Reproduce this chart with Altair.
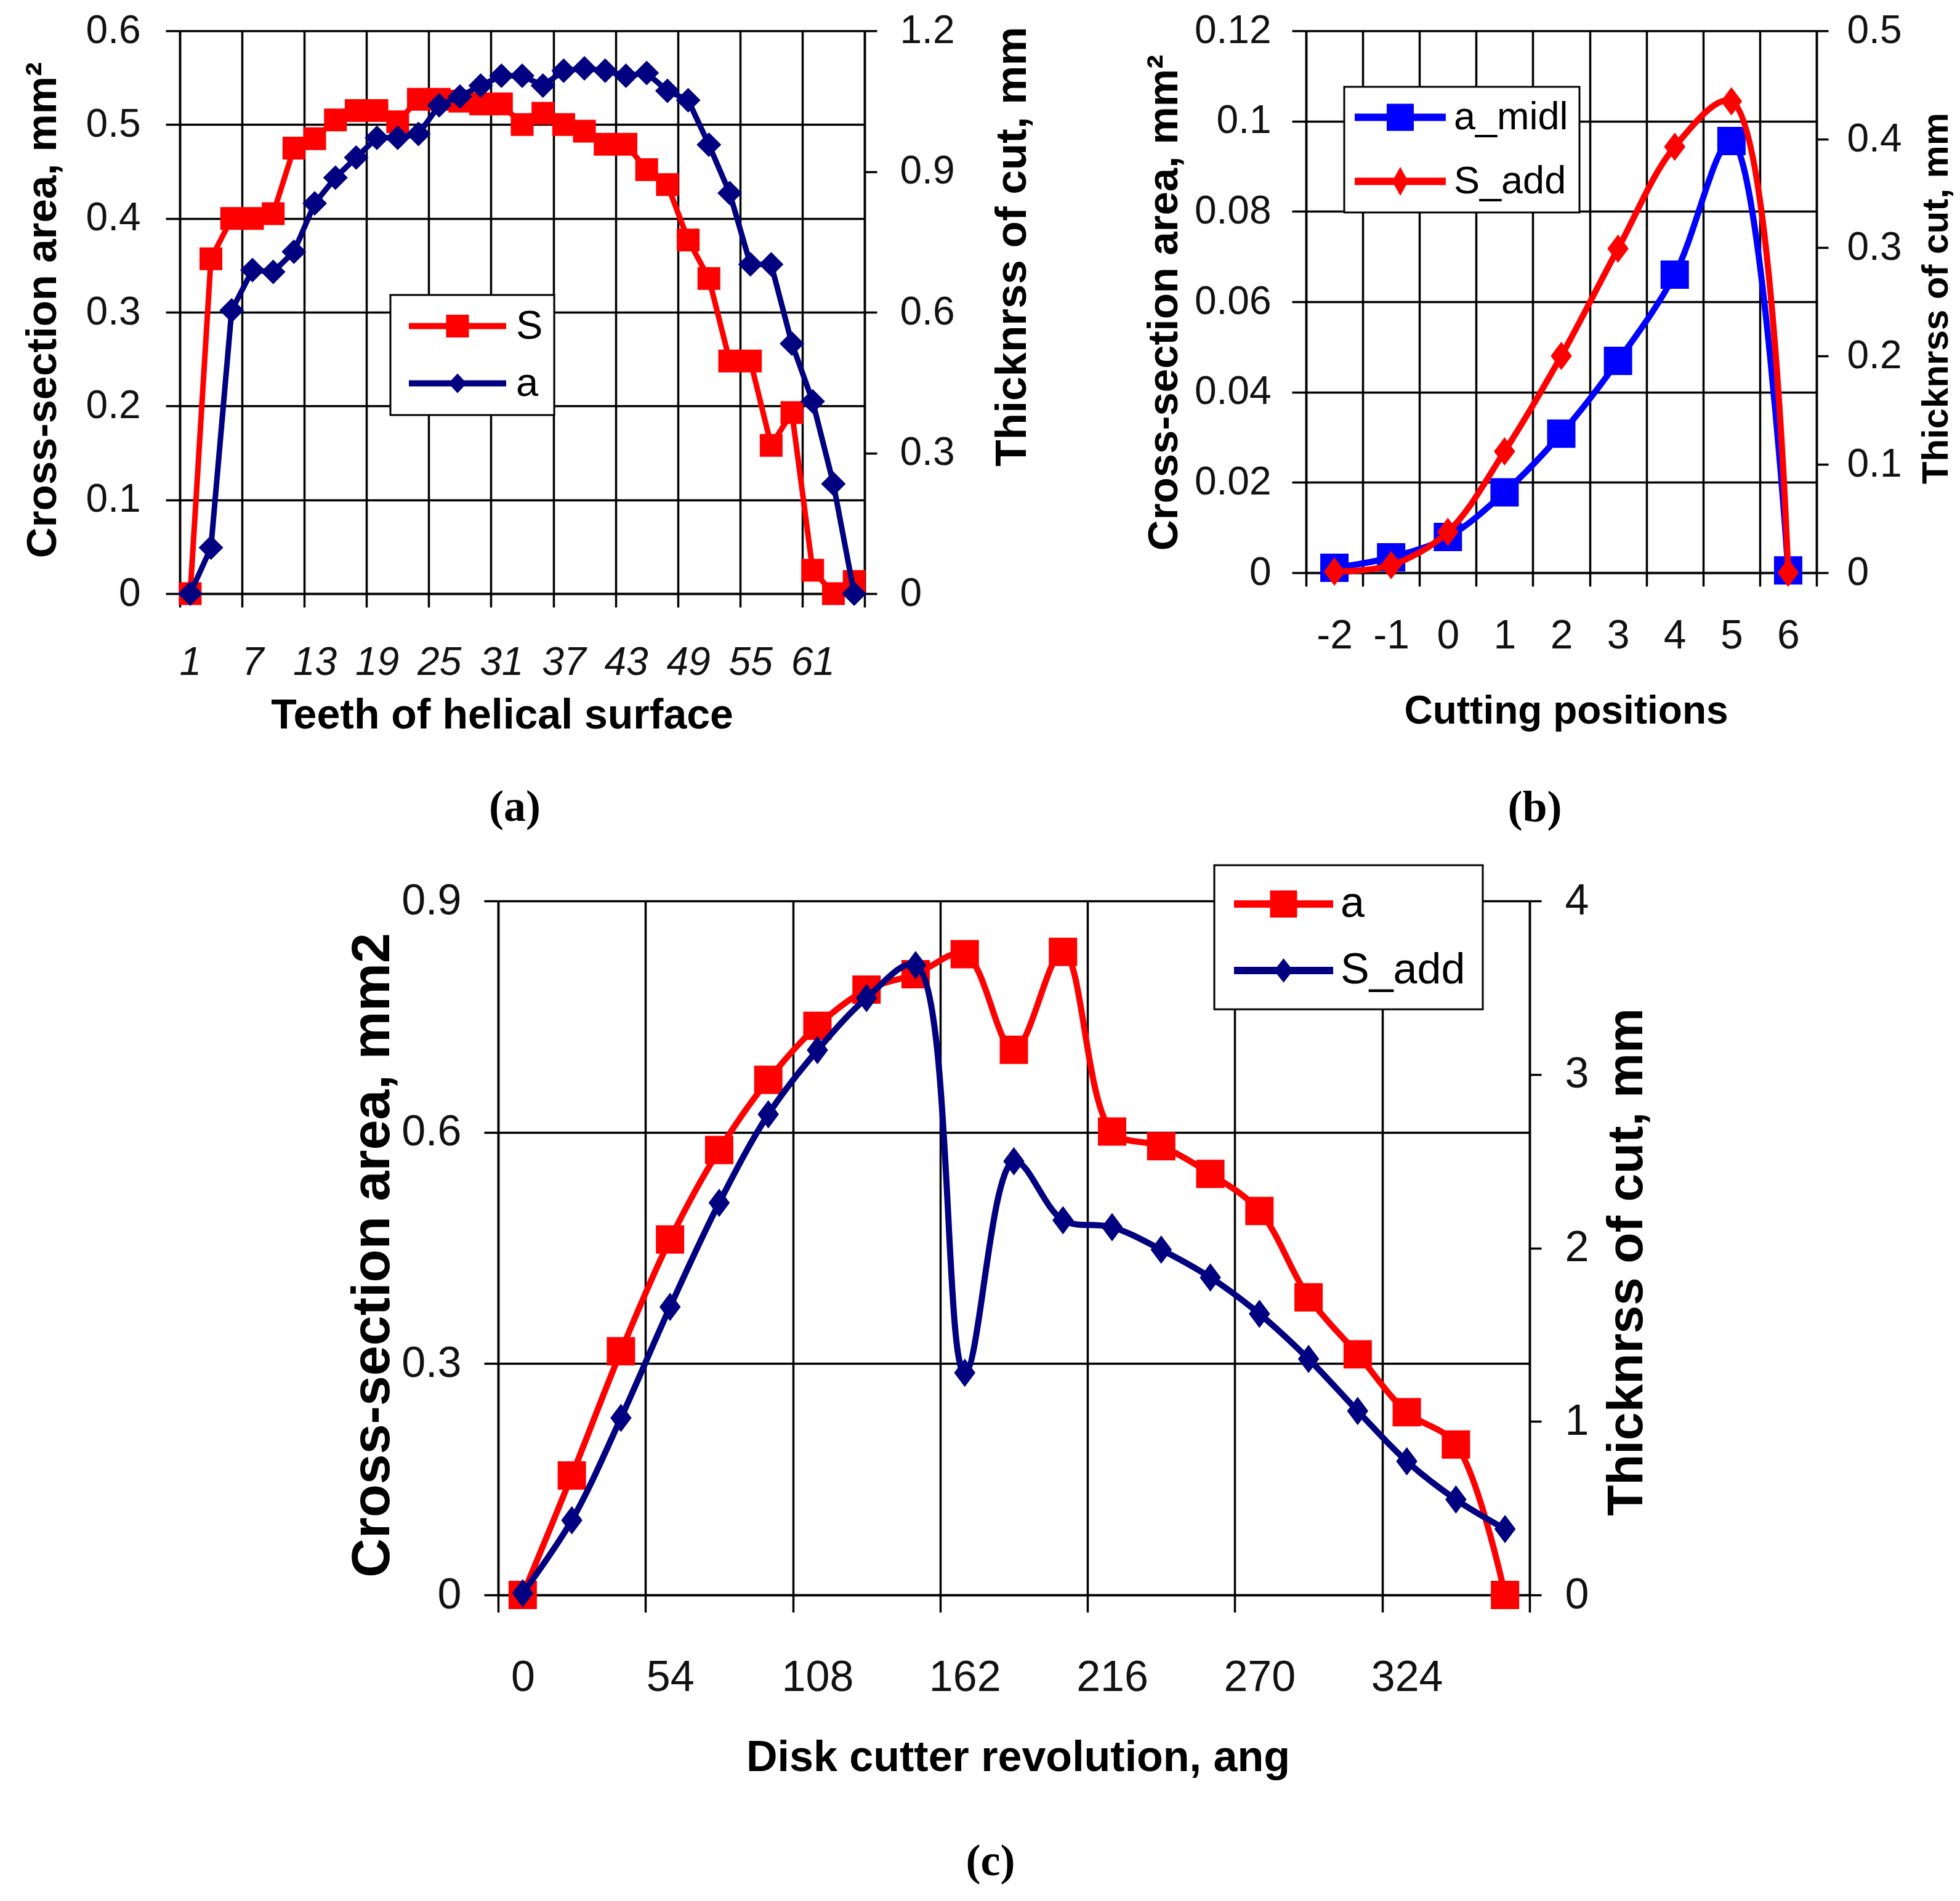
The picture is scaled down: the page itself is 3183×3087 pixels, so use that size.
import altair as alt
import pandas as pd

# ---------------- data: panel (a) ----------------
teeth = [1, 3, 5, 7, 9, 11, 13, 15, 17, 19, 21, 23, 25, 27, 29, 31, 33,
         35, 37, 39, 41, 43, 45, 47, 49, 51, 53, 55, 57, 59, 61, 63, 65]
S_a = [0.0, 0.357, 0.40, 0.40, 0.405, 0.475, 0.485, 0.505, 0.515, 0.515, 0.503,
       0.527, 0.527, 0.525, 0.522, 0.522, 0.50, 0.512, 0.50, 0.493, 0.479, 0.479,
       0.452, 0.436, 0.377, 0.336, 0.248, 0.248, 0.158, 0.193, 0.025, 0.0, 0.013]
a_a = [0.0, 0.098, 0.604, 0.69, 0.686, 0.729, 0.832, 0.887, 0.93, 0.972, 0.972,
       0.98, 1.041, 1.06, 1.083, 1.104, 1.104, 1.083, 1.115, 1.12, 1.115, 1.104,
       1.11, 1.072, 1.052, 0.957, 0.854, 0.702, 0.702, 0.533, 0.41, 0.234, 0.0]
xgrid_a = [0, 6, 12, 18, 24, 30, 36, 42, 48, 54, 60, 66]
yleft_a = [0, 0.1, 0.2, 0.3, 0.4, 0.5, 0.6]
yright_a = [0, 0.3, 0.6, 0.9, 1.2]
names_a = ["S", "a"]

# ---------------- data: panel (b) ----------------
positions = [-2, -1, 0, 1, 2, 3, 4, 5, 6]
a_midl = [0.0011, 0.0034, 0.0079, 0.0178, 0.0308, 0.0469, 0.066, 0.0956, 0.0005]
S_add_b = [0.001, 0.007, 0.0376, 0.112, 0.2, 0.299, 0.393, 0.435, 0.0]
xgrid_b = [-2.5, -1.5, -0.5, 0.5, 1.5, 2.5, 3.5, 4.5, 5.5, 6.5]
yleft_b = [0, 0.02, 0.04, 0.06, 0.08, 0.1, 0.12]
yright_b = [0, 0.1, 0.2, 0.3, 0.4, 0.5]
names_b = ["a_midl", "S_add"]

# ---------------- data: panel (c) ----------------
angles = [0, 18, 36, 54, 72, 90, 108, 126, 144, 162, 180, 198, 216, 234, 252,
          270, 288, 306, 324, 342, 360]
a_c = [0.0, 0.155, 0.316, 0.461, 0.577, 0.668, 0.738, 0.785, 0.805, 0.831, 0.707,
       0.834, 0.601, 0.582, 0.546, 0.498, 0.386, 0.312, 0.237, 0.195, 0.0]
S_add_c = [0.01, 0.43, 1.02, 1.66, 2.26, 2.77, 3.14, 3.44, 3.63, 1.28, 2.50, 2.16,
           2.12, 1.99, 1.83, 1.62, 1.36, 1.06, 0.77, 0.55, 0.38]
xgrid_c = [-9, 45, 99, 153, 207, 261, 315, 369]
yleft_c = [0, 0.3, 0.6, 0.9]
yright_c = [0, 1, 2, 3, 4]
names_c = ["a", "S_add"]

# ---------------- styling ----------------
SANS = "Liberation Sans, Arial, sans-serif"
SERIF = "Liberation Serif, Times New Roman, serif"
RED, NAVY, BLUE = "#FF0000", "#000080", "#0000FF"
TALL_DIAMOND = "M0,-1L0.75,0L0,1L-0.75,0Z"


def line_path(half_len, half_th, marker):
    return (f"M{-half_len},{-half_th}L{half_len},{-half_th}L{half_len},{half_th}"
            f"L{-half_len},{half_th}Z " + marker)


def sq(h):
    return f"M{-h},{-h}L{h},{-h}L{h},{h}L{-h},{h}Z"


def dia(w, h):
    return f"M0,{-h}L{w},0L0,{h}L{-w},0Z"


def x_axis(values, expr, loff, fsize, fstyle, tick, pad, title, tsize, tx, ty):
    return alt.Axis(values=values, labelExpr=expr, labelOffset=loff, labelFont=SANS,
                    labelFontSize=fsize, labelFontStyle=fstyle, labelBaseline="alphabetic",
                    labelPadding=pad, tickSize=tick, grid=True, title=title,
                    titleFont=SANS, titleFontSize=tsize, titleFontWeight="bold",
                    titleX=tx, titleY=ty, titleAngle=0, titleAlign="center",
                    titleBaseline="alphabetic", labelFlush=False, labelOverlap=False)


def y_axis(orient, values, fsize, tick, pad, grid, title, tsize, tx, ty):
    return alt.Axis(orient=orient, values=values, labelExpr="'' + datum.value",
                    labelFont=SANS, labelFontSize=fsize, tickSize=tick, labelPadding=pad,
                    grid=grid, title=title, titleFont=SANS, titleFontSize=tsize,
                    titleFontWeight="bold", titleX=tx, titleY=ty, titleAngle=270,
                    titleAlign="center", titleBaseline="alphabetic",
                    labelFlush=False, labelOverlap=False)


def series(df, x_enc, yf, y_axis_def, domain, color, shape, size, width, interp):
    return alt.Chart(df).mark_line(
        color=color, strokeWidth=width, interpolate=interp,
        point=alt.OverlayMarkDef(shape=shape, size=size, filled=True, color=color, opacity=1),
    ).encode(
        x=x_enc,
        y=alt.Y(f"{yf}:Q", scale=alt.Scale(domain=domain, nice=False, zero=False), axis=y_axis_def),
    )


def legend_layer(names, colors, paths, lx, ly, pad, rowpad, ssize, soff, loff, fsize):
    leg = alt.Legend(orient="none", legendX=lx, legendY=ly, title=None, fillColor="white",
                     strokeColor="black", padding=pad, rowPadding=rowpad, symbolSize=ssize,
                     symbolOffset=soff, labelOffset=loff, labelFont=SANS, labelFontSize=fsize,
                     labelColor="black", symbolOpacity=1, symbolStrokeWidth=0, labelLimit=1000,
                     direction="vertical", cornerRadius=0)
    df = pd.DataFrame({"lg": names})
    return alt.Chart(df).mark_point(filled=True, opacity=0).encode(
        color=alt.Color("lg:N", scale=alt.Scale(domain=names, range=colors), legend=leg),
        shape=alt.Shape("lg:N", scale=alt.Scale(domain=names, range=paths), legend=leg),
    )


def caption(text, dx, offset):
    return alt.Title(text, orient="bottom", anchor="middle", frame="group", font=SERIF,
                     fontSize=72, fontWeight="bold", color="black", dx=dx, offset=offset,
                     baseline="alphabetic")


# ---------------- panel (a) ----------------
WA, HA = 1112, 914
df_a = pd.DataFrame({"tooth": teeth, "S": S_a, "a": a_a})
xa = alt.X("tooth:Q", scale=alt.Scale(domain=[0, 66], nice=False, zero=False),
           axis=x_axis(xgrid_a, "datum.value >= 66 ? '' : toString(datum.value + 1)",
                       WA / 66, 64, "italic", 22, 109,
                       "Teeth of helical surface", 68, 523, 218))
sa = series(df_a, xa, "S",
            y_axis("left", yleft_a, 64, 23, 41, True, "Cross-section area, mm²", 69, -202, 453),
            [0, 0.6], RED, "square", 1369, 9, "linear")
aa = series(df_a, xa, "a",
            y_axis("right", yright_a, 64, 20, 37, False, "Thicknrss of cut, mm", 71, 261, 350),
            [0, 1.2], NAVY, "diamond", 1600, 9, "linear")
la = legend_layer(names_a, [RED, NAVY],
                  [line_path(4.27, 0.27, sq(1)), line_path(4.27, 0.27, dia(0.81, 0.86))],
                  342, 429, 18, 27, 1369, 58.5, 62.5, 65)
chart_a = alt.layer(sa, aa, la).resolve_scale(y="independent").properties(
    width=WA, height=HA, title=caption("(a)", -12, 137))

# ---------------- panel (b) ----------------
WB, HB = 829, 880
df_b = pd.DataFrame({"pos": positions, "a_midl": a_midl, "S_add": S_add_b})
xb = alt.X("pos:Q", scale=alt.Scale(domain=[-2.5, 6.5], nice=False, zero=False),
           axis=x_axis(xgrid_b, "datum.value > 6 ? '' : toString(datum.value + 0.5)",
                       WB / 18, 66, "normal", 22, 100,
                       "Cutting positions", 64, 422, 244))
sb = series(df_b, xb, "a_midl",
            y_axis("left", yleft_b, 64, 23, 34, True, "Cross-section area, mm²", 69, -210, 441),
            [0, 0.12], BLUE, "square", 2116, 10, "catmull-rom")
ab = series(df_b, xb, "S_add",
            y_axis("right", yright_b, 64, 19, 30, False, "Thicknrss of cut, mm", 60, 212, 434),
            [0, 0.5], RED, TALL_DIAMOND, 2116, 10, "catmull-rom")
lb = legend_layer(names_b, [BLUE, RED],
                  [line_path(3.36, 0.27, sq(1)), line_path(3.36, 0.27, dia(0.59, 1.07))],
                  62, 91, 18, 40, 1936, 41.5, 55.5, 63)
chart_b = alt.layer(sb, ab, lb).resolve_scale(y="independent").properties(
    width=WB, height=HB, title=caption("(b)", -43, 147))

# ---------------- panel (c) ----------------
WC, HC = 1675, 1127
df_c = pd.DataFrame({"ang": angles, "a": a_c, "S_add": S_add_c})
xc = alt.X("ang:Q", scale=alt.Scale(domain=[-9, 369], nice=False, zero=False),
           axis=x_axis(xgrid_c, "datum.value >= 369 ? '' : toString(datum.value + 9)",
                       9 * WC / 378, 70, "normal", 28, 127,
                       "Disk cutter revolution, ang", 70, 844, 285))
sc = series(df_c, xc, "a",
            y_axis("left", yleft_c, 70, 23, 37, True, "Cross-section area, mm2", 88, -178, 575),
            [0, 0.9], RED, "square", 2116, 10, "catmull-rom")
ac = series(df_c, xc, "S_add",
            y_axis("right", yright_c, 70, 19, 38, False, "Thicknrss of cut, mm", 82, 182, 586),
            [0, 4], NAVY, TALL_DIAMOND, 2116, 10, "catmull-rom")
lc = legend_layer(names_c, [RED, NAVY],
                  [line_path(3.66, 0.27, sq(1)), line_path(3.66, 0.27, dia(0.7, 0.9))],
                  1163, -58, 28, 38, 1936, 49.5, 57.5, 70)
chart_c = alt.layer(sc, ac, lc).resolve_scale(y="independent").properties(
    width=WC, height=HC, title=caption("(c)", -38, 156))

spacer = alt.Chart(pd.DataFrame({"v": [0]})).mark_point(opacity=0, size=0).properties(
    width=1, height=1)

top = alt.hconcat(chart_a, chart_b, spacing=717, bounds="flush").resolve_scale(
    color="independent", shape="independent")
bottom = alt.hconcat(spacer, chart_c, spacing=516, bounds="flush").resolve_scale(
    color="independent", shape="independent")

chart = alt.vconcat(top, bottom, spacing=55).resolve_scale(
    color="independent", shape="independent"
).properties(
    padding={"left": 26, "top": 10, "right": 0, "bottom": 8}
).configure_view(stroke=None).configure_axis(
    domainColor="black", domainWidth=3.5, tickColor="black", tickWidth=3.5,
    gridColor="black", gridWidth=3.5, gridOpacity=1, labelColor="#111111",
    titleColor="black",
).configure_legend(strokeWidth=3)

chart.save("out.html", embed_options={"renderer": "svg", "actions": False})
